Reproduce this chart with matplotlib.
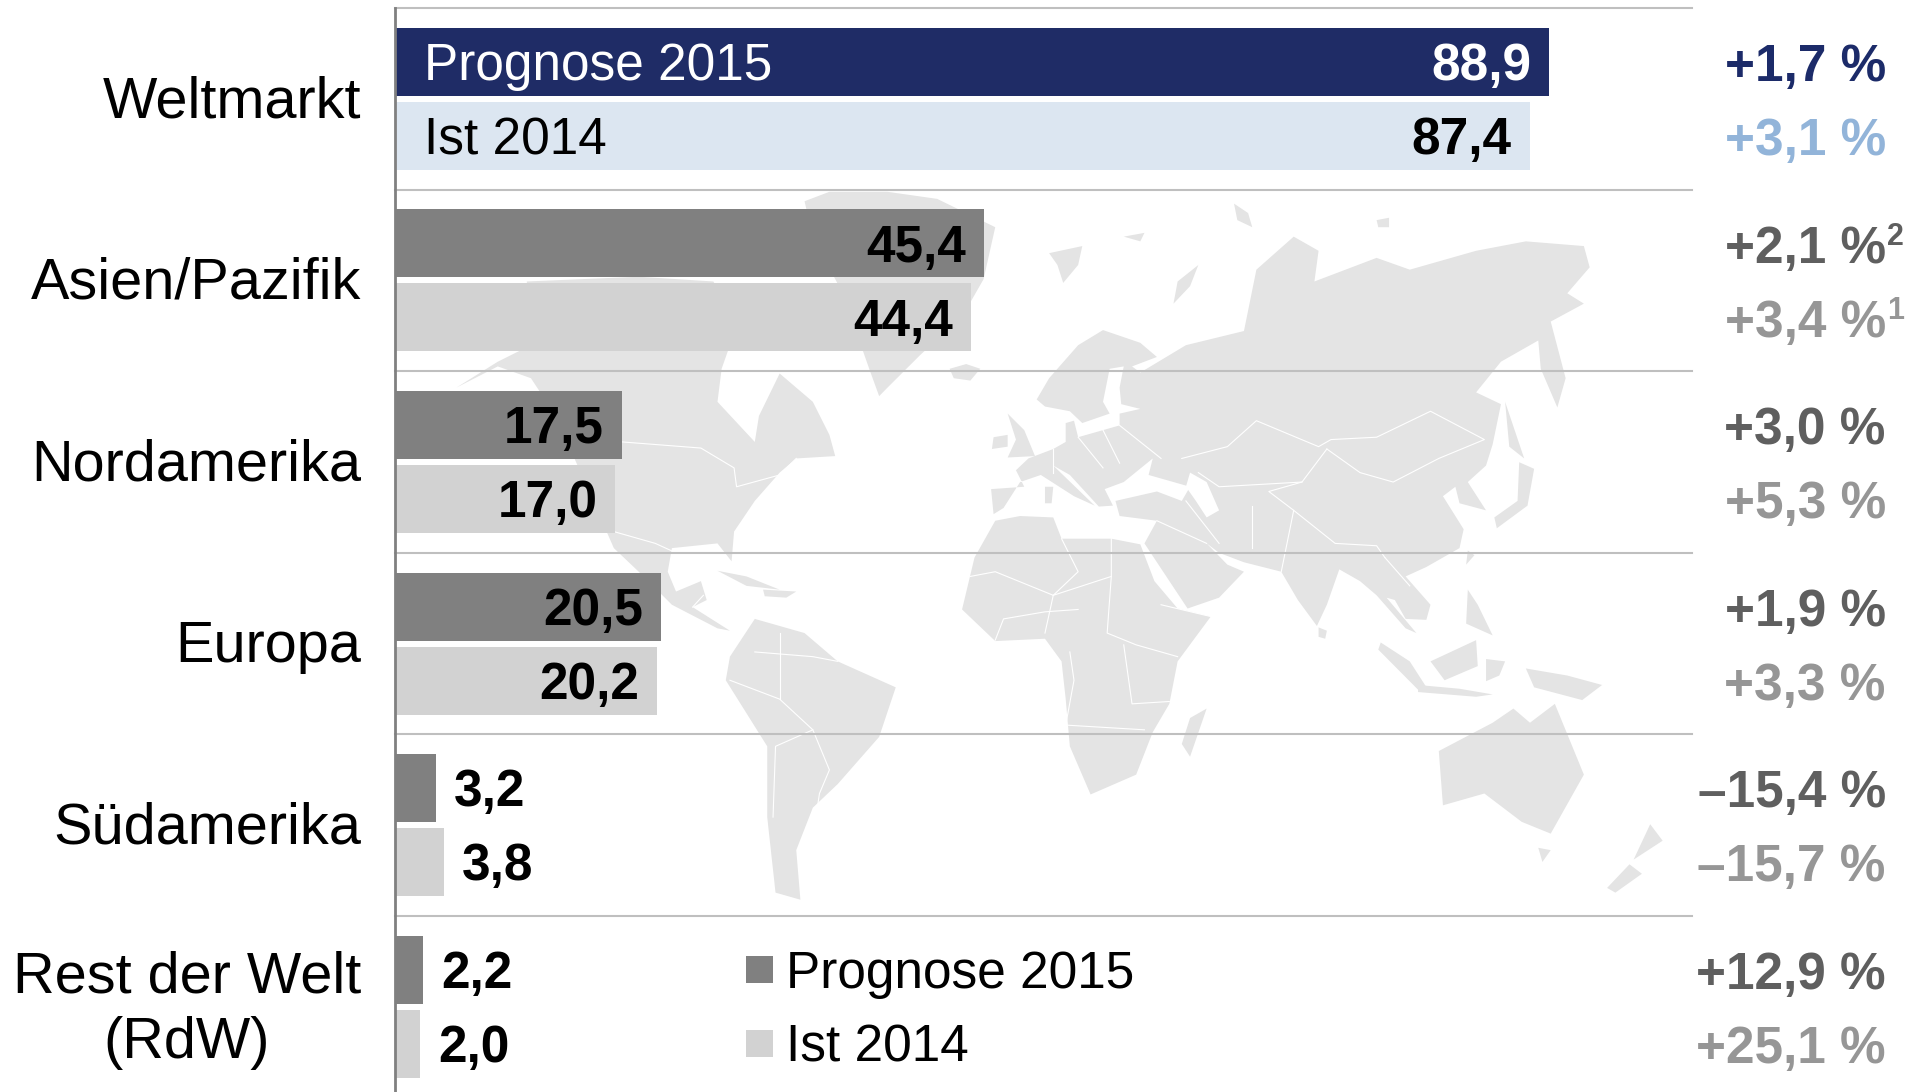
import numpy as np
import matplotlib
matplotlib.use('Agg')
import matplotlib.pyplot as plt
from matplotlib.patches import Polygon, Rectangle

plt.rcParams['font.family'] = ['Liberation Sans', 'DejaVu Sans']

#Chart data
regions = ['Weltmarkt', 'Asien/Pazifik', 'Nordamerika', 'Europa', 'Südamerika', 'Rest der Welt\n(RdW)']
prognose = [88.9, 45.4, 17.5, 20.5, 3.2, 2.2]
ist = [87.4, 44.4, 17.0, 20.2, 3.8, 2.0]
growth_2015 = ['+1,7 %', '+2,1 %', '+3,0 %', '+1,9 %', '–15,4 %', '+12,9 %']
growth_2014 = ['+3,1 %', '+3,4 %', '+5,3 %', '+3,3 %', '–15,7 %', '+25,1 %']
sup_2015 = ['', '2', '', '', '', '']
sup_2014 = ['', '1', '', '', '', '']
series_names = ['Prognose 2015', 'Ist 2014']

#Background map outlines, in pixels of a 1568x1568 working grid
land = [
    # North America
    [(80,440),(130,385),(170,350),(165,215),(300,205),(390,215),(420,300),(400,400),(395,470),(440,555),(445,500),
     (470,410),(510,470),(530,540),(537,585),(490,590),(470,620),(440,680),(415,745),(412,808),(395,770),(340,780),
     (335,830),(345,872),(375,850),(382,890),(365,905),(410,955),(395,950),(340,900),(300,830),(270,780),(250,700),
     (200,500),(170,420),(130,395)],
    # Greenland, Iceland, Svalbard and arctic islands
    [(500,45),(530,25),(600,25),(660,40),(730,100),(716,210),(690,290),(640,370),(600,440),(590,458),(578,400),(570,360),(540,220),(510,120)],
    [(675,400),(695,390),(712,400),(700,425),(680,420)],
    [(795,155),(835,140),(830,180),(812,218),(805,180)],
    [(945,262),(950,215),(975,180),(965,225)],
    [(1018,50),(1035,70),(1040,100),(1022,85)],
    [(1190,85),(1205,80),(1205,100),(1192,100)],
    [(885,120),(910,112),(905,130)],
    # Eurasia
    [(728,708),(725,655),(765,650),(755,615),(770,590),(800,570),(815,555),(815,515),(825,510),(830,545),(860,530),
     (880,520),(880,495),(905,485),(882,475),(880,440),(885,395),(868,400),(860,470),(868,495),(835,515),(820,490),
     (790,480),(780,465),(795,420),(830,350),(860,318),(905,345),(925,375),(895,395),(905,408),(960,350),(1030,320),
     (1045,190),(1090,120),(1120,150),(1115,215),(1190,165),(1230,190),(1310,150),(1370,130),(1440,140),(1447,185),
     (1420,240),(1440,262),(1400,300),(1418,420),(1408,482),(1388,400),(1385,340),(1340,385),(1310,450),(1340,475),
     (1330,560),(1322,605),(1300,640),(1322,700),(1290,685),(1285,650),(1270,670),(1295,740),(1290,780),(1250,820),
     (1225,840),(1255,900),(1250,932),(1225,930),(1212,890),(1202,885),(1238,960),(1225,950),(1190,880),(1170,850),
     (1145,825),(1130,900),(1118,945),(1095,890),(1075,830),(1030,810),(1000,790),(985,770),(1010,815),(1030,830),
     (1000,885),(962,908),(925,810),(910,770),(925,722),(880,712),(875,680),(925,660),(955,680),(965,650),(915,625),
     (920,590),(885,640),(862,655),(872,690),(855,692),(820,625),(800,605),(850,690),(825,670),(785,625),(760,640),
     (740,695)],
    # Africa
    [(730,722),(760,712),(800,715),(810,760),(870,760),(905,772),(922,850),(950,908),(990,925),(950,1020),(940,1110),
     (920,1170),(900,1260),(845,1302),(820,1200),(815,1100),(810,1020),(790,972),(730,977),(690,910),(705,800)],
    [(985,1120),(965,1222),(955,1195),(965,1140)],
    # South America
    [(440,930),(500,960),(540,1020),(610,1075),(590,1180),(540,1280),(510,1330),(490,1420),(495,1525),(465,1510),
     (455,1350),(455,1200),(405,1060),(410,1010)],
    # Australia and New Zealand
    [(1265,1210),(1330,1150),(1355,1120),(1375,1150),(1405,1110),(1440,1260),(1400,1385),(1365,1360),(1320,1300),(1270,1325)],
    [(1385,1415),(1400,1420),(1390,1445)],
    [(1520,1365),(1535,1400),(1500,1440)],
    [(1495,1450),(1510,1470),(1478,1510),(1468,1500)],
    # Japan, Sakhalin, Taiwan, Sri Lanka, UK, Ireland, Italy islands
    [(1345,470),(1368,590),(1350,565)],
    [(1362,598),(1380,612),(1372,690),(1335,738),(1332,715),(1360,680)],
    [(1300,785),(1308,795),(1298,815)],
    [(1120,948),(1130,955),(1128,972),(1120,968)],
    [(745,495),(765,530),(778,585),(745,588),(755,550)],
    [(728,545),(745,540),(745,565),(726,570)],
    [(790,650),(800,650),(798,685),(790,685)],
    # Caribbean
    [(395,828),(430,840),(470,868),(430,860)],
    [(450,868),(490,872),(478,885),(452,882)],
    # Indonesia, Philippines, New Guinea
    [(1195,980),(1230,1020),(1252,1080),(1240,1080),(1192,995)],
    [(1240,1070),(1290,1078),(1330,1090),(1310,1095),(1240,1085)],
    [(1255,1020),(1310,975),(1312,1030),(1272,1060)],
    [(1322,1015),(1345,1020),(1338,1050),(1322,1062)],
    [(1370,1035),(1420,1050),(1462,1070),(1438,1102),(1380,1075)],
    [(1300,868),(1312,900),(1330,965),(1298,940)],
]
holes = [
    [(965,620),(985,640),(1000,700),(985,715),(972,680),(960,650)],
]
borders = [
    [(280,555),(375,568),(415,610),(418,650),(470,625),(490,590)],
    [(270,745),(320,770),(345,790)],
    [(365,905),(378,880)],
    [(440,1000),(510,1010),(540,1020)],
    [(410,1060),(470,1100),(510,1165),(465,1200),(462,1350)],
    [(510,1165),(530,1250),(518,1300),(515,1335)],
    [(470,960),(470,1100)],
    [(700,840),(730,830),(800,880),(870,840),(870,760)],
    [(800,880),(790,960)],
    [(870,840),(865,960),(900,985),(950,1010)],
    [(820,1000),(825,1060),(815,1155),(910,1165)],
    [(885,985),(895,1110),(940,1105)],
    [(730,975),(740,930),(790,915),(830,910)],
    [(930,900),(990,925)],
    [(810,760),(830,830),(800,880)],
    [(955,590),(1010,565),(1045,510),(1120,565),(1135,550),(1190,545),(1255,490),(1320,550),(1265,590),(1210,640),(1170,620),(1130,570)],
    [(1130,570),(1100,640),(1060,660),(1090,700),(1140,770),(1190,775),(1200,800)],
    [(975,620),(1000,650),(1100,640)],
    [(960,680),(1000,770)],
    [(1040,690),(1040,780)],
    [(1075,830),(1090,700)],
    [(800,570),(800,620)],
    [(830,545),(860,610)],
    [(880,520),(930,590)],
    [(860,530),(880,600)],
    [(1200,800),(1230,860)],
    [(925,722),(985,770)],
]

fig = plt.figure(figsize=(19.19, 10.92), dpi=100)

#Map sits behind the chart
ax_map = fig.add_axes([390 / 1919, 1 - 920 / 1092, 1300 / 1919, 740 / 1092])
ax_map.set_xlim(0, 1568)
ax_map.set_ylim(1568, 0)
ax_map.axis('off')
for shape in land:
    ax_map.add_patch(Polygon(shape, closed=True, fc='#E4E4E4', ec='none'))
for shape in holes:
    ax_map.add_patch(Polygon(shape, closed=True, fc='white', ec='none'))
for line in borders:
    ax_map.plot([p[0] for p in line], [p[1] for p in line], color='white', lw=0.8)

#Main axes fill the figure: x in market value, y in rows
ax = fig.add_axes([0, 0, 1, 1])
ax.patch.set_alpha(0)
ax.set_xlim(-394.5 / 12.99, (1919 - 394.5) / 12.99)
ax.set_ylim((1092 - 99) / 181.5, -99 / 181.5)
ax.axis('off')

y = np.arange(len(regions))
off = 37 / 181.5
h = 68 / 181.5

c15 = ['#1F2C66'] + ['#808080'] * 5
c14 = ['#DCE6F1'] + ['#D2D2D2'] * 5
g15 = ['#1C2B69'] + ['#5F5F5F'] * 5
g14 = ['#92B4D9'] + ['#969696'] * 5

ax.barh(y - off, prognose, height=h, color=c15, zorder=3)
ax.barh(y + off, ist, height=h, color=c14, zorder=3)

#Separators and axis line
x_end = (1692 - 394.5) / 12.99
for r in np.arange(len(regions)) - 0.5:
    ax.plot([0, x_end], [r, r], color='#BFBFBF', lw=1.5, zorder=2)
ax.plot([0, 0], [-0.5, 5.6], color='#808080', lw=2, zorder=4, clip_on=False)

fs = 37


def value_label(v, yy, color='black'):
    txt = ('%.1f' % v).replace('.', ',')
    if v > 10:
        ax.annotate(txt, (v, yy), xytext=(-13, -3.5), textcoords='offset points', ha='right', va='center',
                    fontsize=fs, fontweight='bold', color=color, zorder=5)
    else:
        ax.annotate(txt, (v, yy), xytext=(13, -3.5), textcoords='offset points', ha='left', va='center',
                    fontsize=fs, fontweight='bold', color=color, zorder=5)


for i in range(len(regions)):
    value_label(prognose[i], y[i] - off, 'white' if i == 0 else 'black')
    value_label(ist[i], y[i] + off)
    ax.annotate(regions[i], (0, y[i] + 0.0), xytext=(-24, -2.5), textcoords='offset points', ha='right', va='center',
                multialignment='center', fontsize=41.5, linespacing=1.27, zorder=5)
    # growth rates on the right
    for yy, txt, col, sup in [(y[i] - off, growth_2015[i], g15[i], sup_2015[i]),
                              (y[i] + off, growth_2014[i], g14[i], sup_2014[i])]:
        ax.annotate(txt, (x_end, yy), xytext=(139.5, -4), textcoords='offset points', ha='right', va='center',
                    fontsize=fs, fontweight='bold', color=col, zorder=5)
        if sup:
            ax.annotate(sup, (x_end, yy), xytext=(140.5, 4.5), textcoords='offset points', ha='left', va='center',
                        fontsize=22, fontweight='bold', color=col, zorder=5)

#Labels inside the Weltmarkt bars
ax.annotate(series_names[0], (0, y[0] - off), xytext=(21.5, -3.5), textcoords='offset points', va='center',
            fontsize=fs, color='white', zorder=5)
ax.annotate(series_names[1], (0, y[0] + off), xytext=(21.5, -3.5), textcoords='offset points', va='center',
            fontsize=fs, color='black', zorder=5)

#Legend in the last row
for name, col, yy in zip(series_names, ['#808080', '#D2D2D2'], [y[5] - off, y[5] + off]):
    ax.add_patch(Rectangle((27.05, yy - 13.5 / 181.5), 2.05, 27 / 181.5, fc=col, ec='none', zorder=5))
    ax.annotate(name, (30.15, yy), va='center', xytext=(0, -3.5), textcoords='offset points', fontsize=fs, zorder=5)

plt.savefig('out.png', dpi=100)
